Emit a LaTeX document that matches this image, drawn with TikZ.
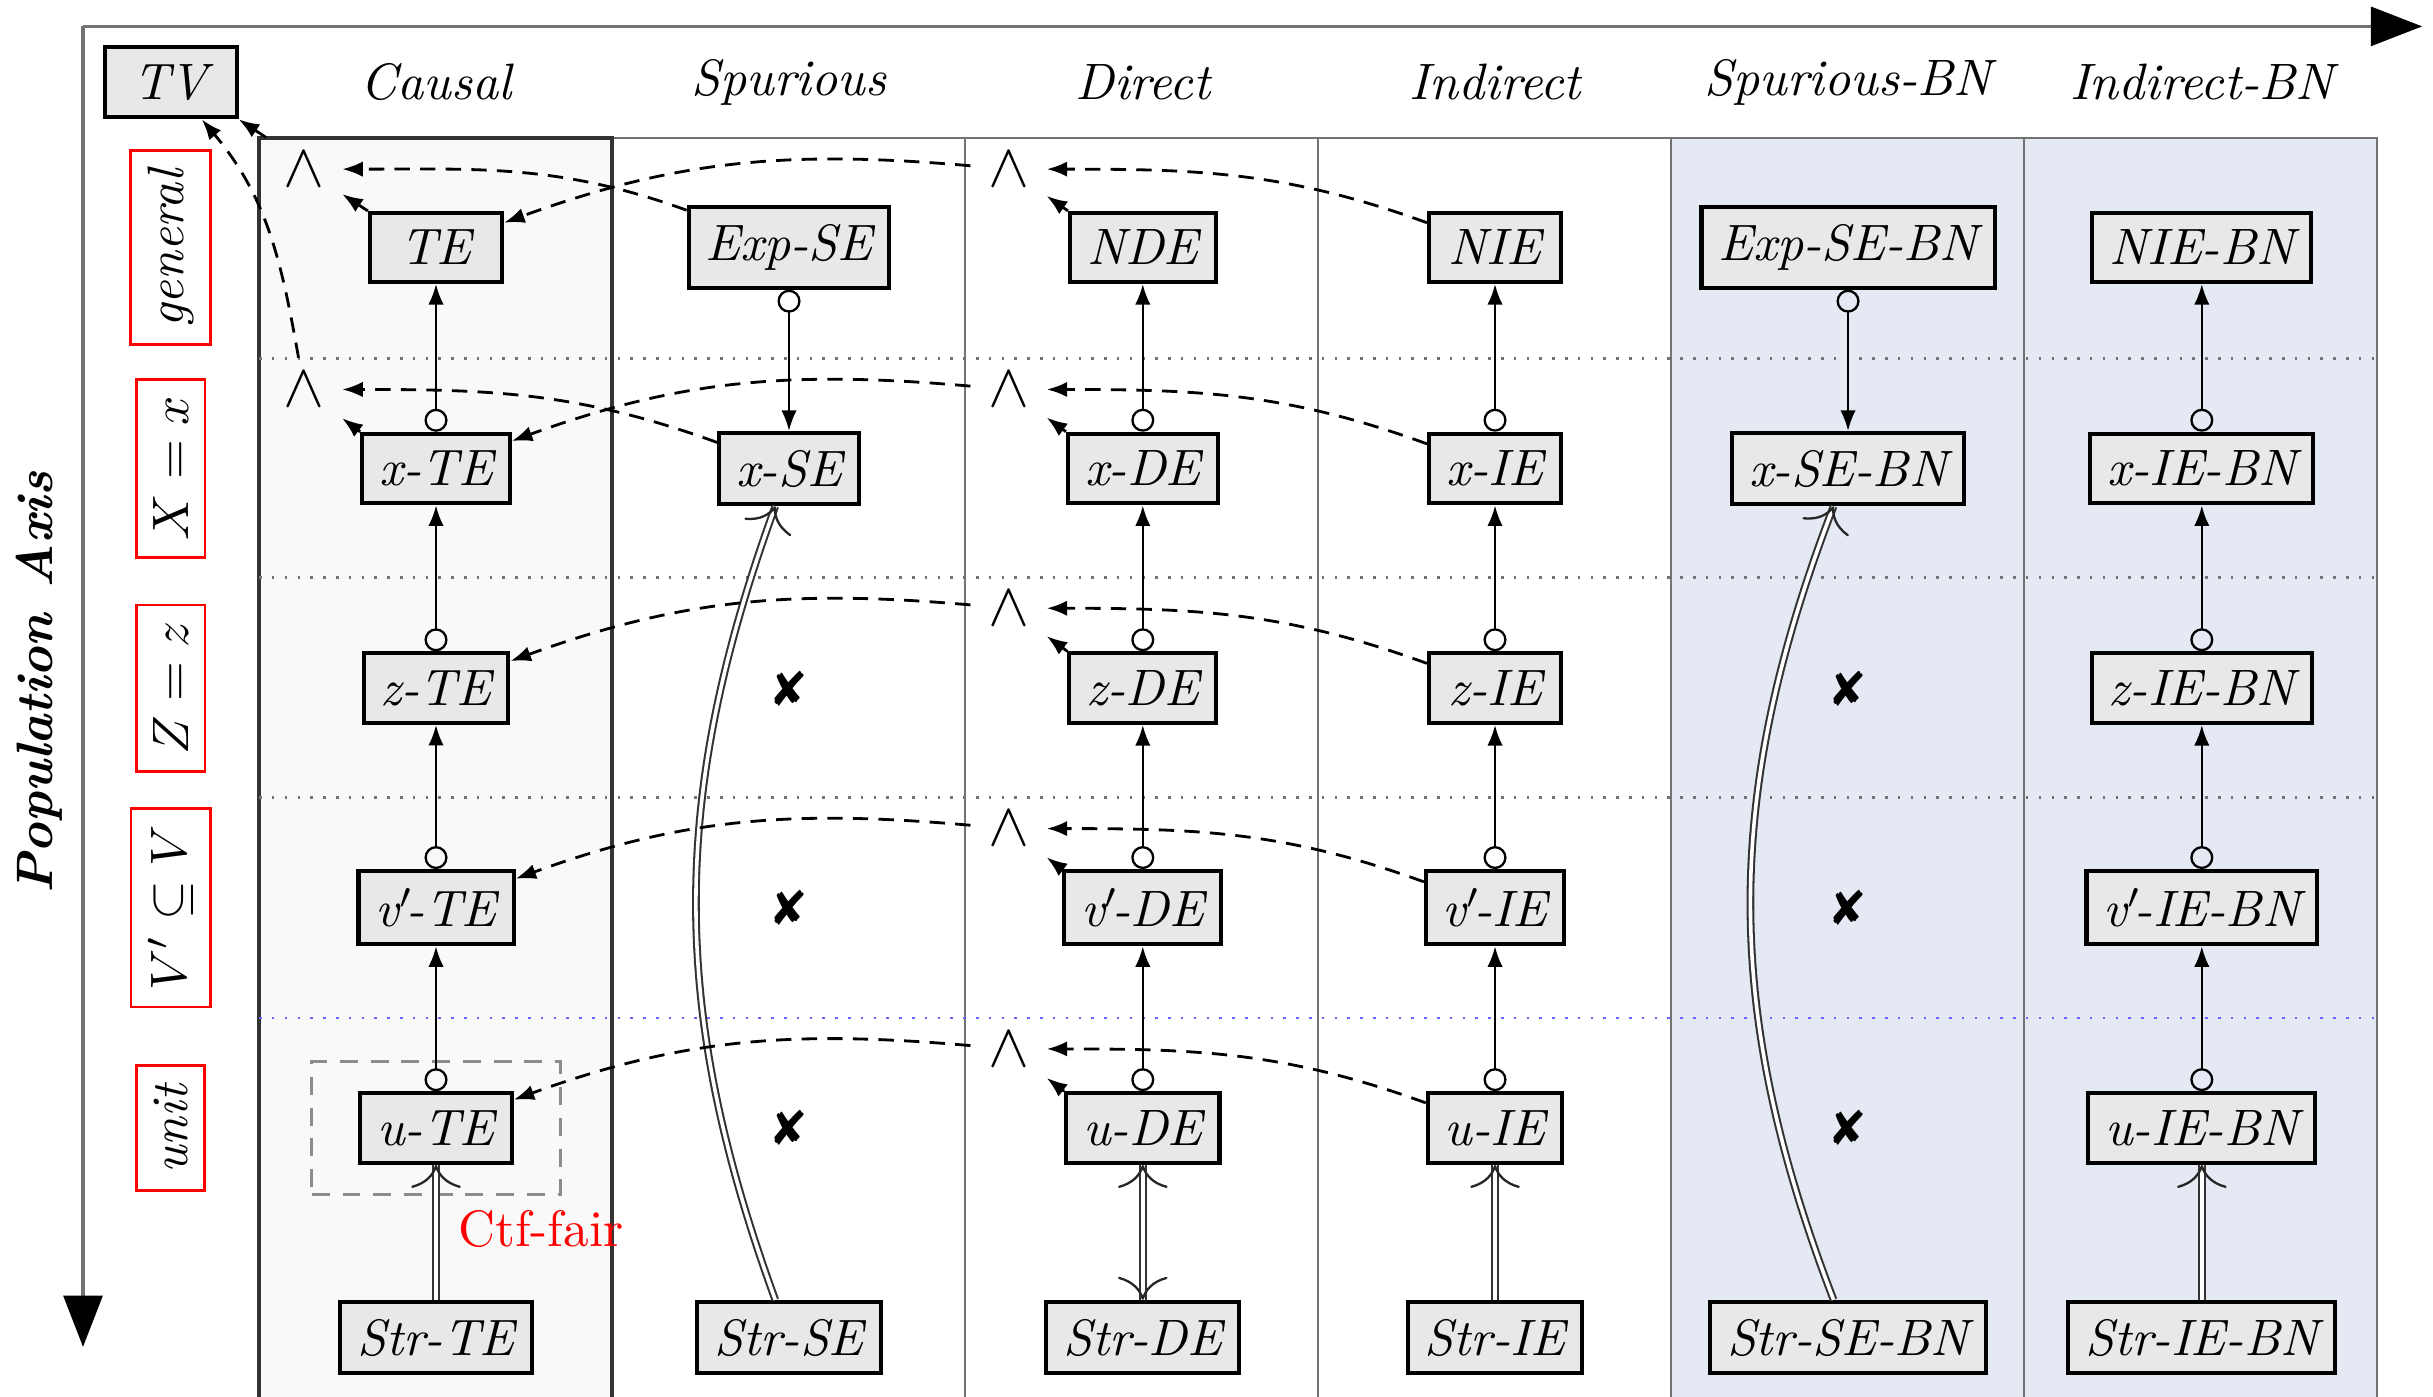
\documentclass[tikz,border=0pt]{standalone}
\usepackage{pifont}
\usetikzlibrary{arrows.meta}
\definecolor{boxgray}{gray}{0.91}
\definecolor{lanegray}{gray}{0.975}
\definecolor{laneblue}{RGB}{228,233,244}
\newcommand{\vpr}{v$'$\kern-1.3pt}
\begin{document}
\begin{tikzpicture}[x=0.303pt,y=0.303pt,
  box/.style={draw=black, line width=0.8pt, fill=boxgray, minimum width=25.8pt, font=\itshape},
  andnode/.style={minimum width=14.5pt, minimum height=12pt, inner sep=0pt, font=\fontsize{11.5}{12}\selectfont},
  hdr/.style={font=\itshape},
  lab/.style={draw=red, line width=0.5pt, rotate=90, inner sep=3.3pt},
  vert/.style={line width=0.45pt, {Circle[open,length=4.5pt,width=4.5pt]}-{Latex[length=4pt,width=3pt]}},
  dsh/.style={line width=0.55pt, dash pattern=on 3pt off 2pt, -{Latex[length=4pt,width=3pt]}},
  imp/.tip={To[length=4.5pt,width=9.7pt,line width=0.45pt,color=black!85]},
  dblline/.style={double, double distance=0.7pt, line width=0.4pt, draw=black!80},
  imptip/.style={draw=white, line width=0.2pt, -imp},
  imptipboth/.style={draw=white, line width=0.2pt, imp-imp},
  xmark/.style={font=\fontsize{9.5}{9.5}\selectfont},
  lane/.style={draw=black!55, line width=0.5pt},
  rowsep/.style={dotted, line width=0.5pt, draw=black!55}
]
\useasboundingbox (0,0) rectangle (1568,900);
% lanes
\fill[lanegray] (167,-10) rectangle (394.5,811);
\fill[laneblue] (1077,-10) rectangle (1532,811);
\draw[lane] (394.5,-10) -- (394.5,811) -- (1532,811) -- (1532,-10);
\foreach \x in {622,849.5,1077,1304.5} \draw[lane] (\x,-10) -- (\x,811);
\draw[draw=black!80, line width=0.8pt] (167,-10) rectangle (394.5,811);
% row separators
\foreach \y in {669,528,386} \draw[rowsep] (167,\y) -- (1532,\y);
\draw[rowsep, draw=blue!60] (167,244) -- (1532,244);
% axes
\coordinate (O) at (53.5,883);
\coordinate (XE) at (1561,883);
\coordinate (YE) at (53.5,32);
\draw[black!55, line width=0.6pt, -{Triangle[length=10pt,width=7.6pt,color=black]}] (O) -- (XE);
\draw[black!55, line width=0.6pt, -{Triangle[length=10pt,width=7.6pt,color=black]}] (O) -- (YE);
\node[rotate=90, font=\bfseries\itshape] (pax) at (25,460) {Population\enspace Axis};
% headers
\node[box] (TV) at (110,847) {TV};
\node[hdr] (hA) at (281,847) {Causal};
\node[hdr] (hB) at (508.5,847) {Spurious};
\node[hdr] (hC) at (736.5,847) {Direct};
\node[hdr] (hD) at (963.5,847) {Indirect};
\node[hdr] (hE) at (1191,847) {Spurious-BN};
\node[hdr] (hF) at (1419,847) {Indirect-BN};
% row labels
\node[lab] (lg) at (110,740.5) {\textit{general}};
\node[lab] (lx) at (110,598) {$X = x$};
\node[lab] (lz) at (110,456.5) {$Z = z$};
\node[lab] (lv) at (110,315) {$V' \subseteq V$};
\node[lab] (lu) at (110,173) {\textit{unit}};
% ctf-fair box
\node[draw=black!45, dash pattern=on 3.5pt off 2.5pt, line width=0.6pt, minimum width=48.5pt, minimum height=26pt] (ctfbox) at (281,172.9) {};
\node[text=red] (ctf) at (348.5,108) {Ctf-fair};
% causal
\node[box] (TE) at (281,740.5) {TE};
\node[box] (xTE) at (281,598) {x-TE};
\node[box] (zTE) at (281,456.5) {z-TE};
\node[box] (vTE) at (281,315) {\vpr-TE};
\node[box] (uTE) at (281,173) {u-TE};
\node[box] (StrTE) at (281,38) {Str-TE};
% spurious
\node[box] (ExpSE) at (508.5,740.5) {Exp-SE};
\node[box] (xSE) at (508.5,598) {x-SE};
\node[xmark] (xs1) at (508.5,456.5) {\ding{56}};
\node[xmark] (xs2) at (508.5,315) {\ding{56}};
\node[xmark] (xs3) at (508.5,173) {\ding{56}};
\node[box] (StrSE) at (508.5,38) {Str-SE};
% direct
\node[box] (NDE) at (736.5,740.5) {NDE};
\node[box] (xDE) at (736.5,598) {x-DE};
\node[box] (zDE) at (736.5,456.5) {z-DE};
\node[box] (vDE) at (736.5,315) {\vpr-DE};
\node[box] (uDE) at (736.5,173) {u-DE};
\node[box] (StrDE) at (736.5,38) {Str-DE};
% indirect
\node[box] (NIE) at (963.5,740.5) {NIE};
\node[box] (xIE) at (963.5,598) {x-IE};
\node[box] (zIE) at (963.5,456.5) {z-IE};
\node[box] (vIE) at (963.5,315) {\vpr-IE};
\node[box] (uIE) at (963.5,173) {u-IE};
\node[box] (StrIE) at (963.5,38) {Str-IE};
% spurious-BN
\node[box] (ExpSEBN) at (1191,740.5) {Exp-SE-BN};
\node[box] (xSEBN) at (1191,598) {x-SE-BN};
\node[xmark] (xb1) at (1191,456.5) {\ding{56}};
\node[xmark] (xb2) at (1191,315) {\ding{56}};
\node[xmark] (xb3) at (1191,173) {\ding{56}};
\node[box] (StrSEBN) at (1191,38) {Str-SE-BN};
% indirect-BN
\node[box] (NIEBN) at (1419,740.5) {NIE-BN};
\node[box] (xIEBN) at (1419,598) {x-IE-BN};
\node[box] (zIEBN) at (1419,456.5) {z-IE-BN};
\node[box] (vIEBN) at (1419,315) {\vpr-IE-BN};
\node[box] (uIEBN) at (1419,173) {u-IE-BN};
\node[box] (StrIEBN) at (1419,38) {Str-IE-BN};
% and nodes
\node[andnode] (andc0) at (196,791) {$\wedge$};
\node[andnode] (andc1) at (196,649) {$\wedge$};
\node[andnode] (andd0) at (650,791) {$\wedge$};
\node[andnode] (andd1) at (650,649) {$\wedge$};
\node[andnode] (andd2) at (650,508) {$\wedge$};
\node[andnode] (andd3) at (650,366) {$\wedge$};
\node[andnode] (andd4) at (650,224) {$\wedge$};
% vertical arrows
\foreach \a/\b in {xTE/TE,zTE/xTE,vTE/zTE,uTE/vTE,
                   xDE/NDE,zDE/xDE,vDE/zDE,uDE/vDE,
                   xIE/NIE,zIE/xIE,vIE/zIE,uIE/vIE,
                   xIEBN/NIEBN,zIEBN/xIEBN,vIEBN/zIEBN,uIEBN/vIEBN,
                   ExpSE/xSE,ExpSEBN/xSEBN}
  \draw[vert] (\a) -- (\b);
% double arrows
\foreach \a/\b in {StrTE/uTE,StrIE/uIE,StrIEBN/uIEBN}{
  \draw[dblline] (\a) -- (\b);
  \draw[imptip] (\a) -- (\b);
}
\draw[dblline] (StrDE) -- (uDE);
\draw[imptipboth] (StrDE) -- (uDE);
\draw[dblline] (StrSE) to[bend left=20] (xSE);
\draw[imptip] (StrSE) to[bend left=20] (xSE);
\draw[dblline] (StrSEBN) to[bend left=21] (xSEBN);
\draw[imptip] (StrSEBN) to[bend left=21] (xSEBN);
% dashed arrows to TV
\draw[dsh] (andc0.north west) -- (TV.south east);
\draw[dsh] (andc1) to[out=100,in=-50] (TV);
% causal and-nodes
\draw[dsh] (TE.north west) -- (andc0);
\draw[dsh] (xTE.north west) -- (andc1);
\draw[dsh] (ExpSE) to[out=160,in=0] (andc0);
\draw[dsh] (xSE) to[out=160,in=0] (andc1);
% direct and-nodes
\foreach \n/\d/\i/\t in {0/NDE/NIE/TE,1/xDE/xIE/xTE,2/zDE/zIE/zTE,3/vDE/vIE/vTE,4/uDE/uIE/uTE}{
  \draw[dsh] (\d.north west) -- (andd\n);
  \draw[dsh] (\i) to[out=160,in=0] (andd\n);
  \draw[dsh] (andd\n) to[out=175,in=20] (\t);
}
\end{tikzpicture}
\end{document}
